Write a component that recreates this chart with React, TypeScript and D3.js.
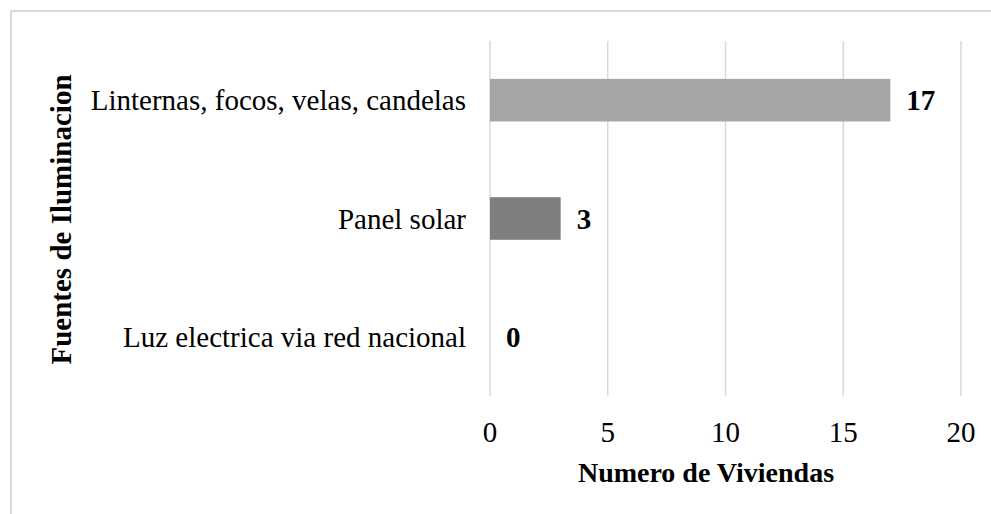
import React from "react";
import * as d3 from "d3";

const categories = [
  "Linternas, focos, velas, candelas",
  "Panel solar",
  "Luz electrica via red nacional",
];
const values = [17, 3, 0];
const barColors = ["#a6a6a6", "#7f7f7f", "#a6a6a6"];
const xTicks = [0, 5, 10, 15, 20];
const xTitle = "Numero de Viviendas";
const yTitle = "Fuentes de Iluminacion";

const W = 991;
const H = 514;
const FONT = "'Liberation Serif', 'Times New Roman', serif";

export default function App() {
  const x = d3.scaleLinear().domain([0, 20]).range([490, 961]);
  const y = d3
    .scaleBand<string>()
    .domain(categories)
    .range([41, 396])
    .paddingInner(0.64)
    .paddingOuter(0.32);

  return (
    <svg
      width={W}
      height={H}
      style={{ position: "absolute", left: 0, top: 0, background: "#fff" }}
      fontFamily={FONT}
    >
      <rect x={11} y={11} width={1100} height={700} fill="#fff" stroke="#d9d9d9" strokeWidth={2} />
      {xTicks.map((t) => (
        <line
          key={"g" + t}
          x1={x(t)}
          x2={x(t)}
          y1={41}
          y2={396}
          stroke="#d9d9d9"
          strokeWidth={1.5}
        />
      ))}
      {categories.map((c, i) => (
        <rect
          key={"b" + c}
          x={x(0)}
          y={y(c)}
          width={x(values[i]) - x(0)}
          height={y.bandwidth()}
          fill={barColors[i]}
        />
      ))}
      {categories.map((c, i) => (
        <text
          key={"l" + c}
          x={466}
          y={(y(c) as number) + y.bandwidth() / 2}
          dy="0.35em"
          textAnchor="end"
          fontSize={29}
          fill="#000"
        >
          {c}
        </text>
      ))}
      {categories.map((c, i) => (
        <text
          key={"v" + c}
          x={x(values[i]) + 16}
          y={(y(c) as number) + y.bandwidth() / 2}
          dy="0.35em"
          textAnchor="start"
          fontSize={29}
          fontWeight="bold"
          fill="#000"
        >
          {values[i]}
        </text>
      ))}
      {xTicks.map((t) => (
        <text key={"t" + t} x={x(t)} y={442} textAnchor="middle" fontSize={29} fill="#000">
          {t}
        </text>
      ))}
      <text x={706} y={482} textAnchor="middle" fontSize={28} fontWeight="bold" fill="#000">
        {xTitle}
      </text>
      <text
        transform={`translate(71,219.5) rotate(-90)`}
        textAnchor="middle"
        fontSize={29}
        fontWeight="bold"
        fill="#000"
      >
        {yTitle}
      </text>
    </svg>
  );
}
